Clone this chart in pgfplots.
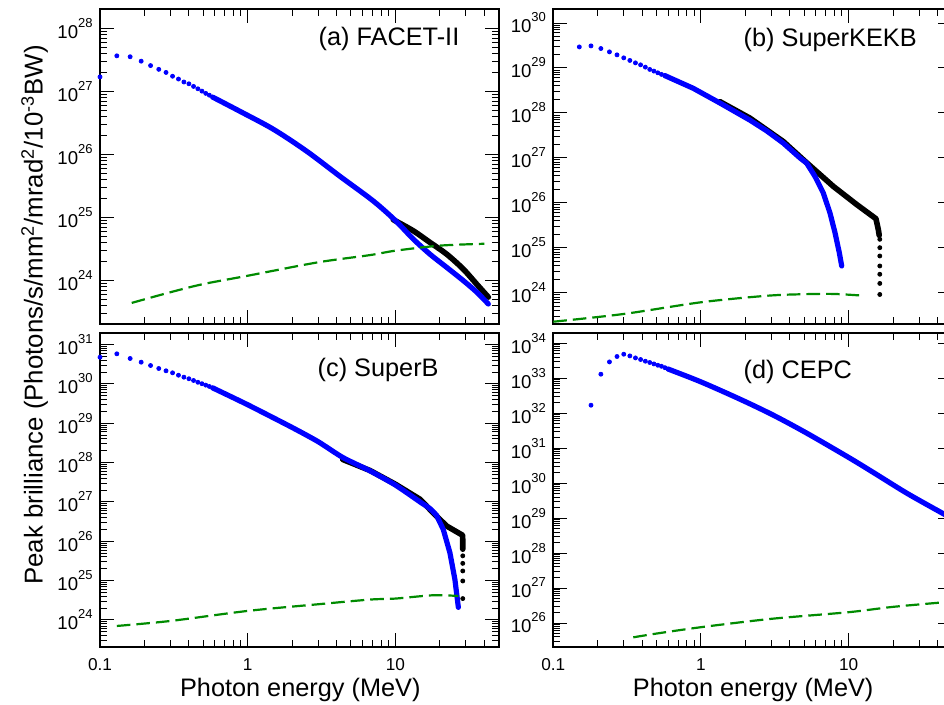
\documentclass[border=0pt]{standalone}
\usepackage{fontspec}
\setmainfont{Liberation Sans}
\usepackage{pgfplots}
\pgfplotsset{compat=1.18}
\definecolor{gr}{RGB}{0,139,0}

\pgfplotsset{
  panel/.style={
    scale only axis, width=199.3pt, height=157.4pt,
    log basis x=10, log basis y=10,
    xmin=0.1, xmax=50,
    axis line style={line width=1pt},
    tick style={line width=0.5pt, black},
    major tick length=7pt, minor tick length=3.5pt,
    tick align=inside,
    xtick={0.1,1,10},
    minor xtick={0.2,0.3,0.4,0.5,0.6,0.7,0.8,0.9,2,3,4,5,6,7,8,9,20,30,40,50},
    yticklabel={\pgfmathtruncatemacro\ex{round(\tick)}10\raisebox{5.5pt}{\fontsize{6.5pt}{7pt}\selectfont\ex}},
    yticklabel style={font=\fontsize{9.3pt}{10pt}\selectfont, inner sep=0pt, xshift=-3.5pt},
    xticklabel style={font=\fontsize{8.6pt}{10pt}\selectfont, inner sep=0pt, yshift=-5.3pt},
    clip=false,
  },
  bluedots/.style={only marks, mark=*, mark size=1pt, blue, mark options={draw=blue, fill=blue}},
  blackdots/.style={only marks, mark=*, mark size=1pt, black},
  blueline/.style={no marks, blue, line width=2.6pt, line cap=round, line join=round},
  blackline/.style={no marks, black, line width=2.8pt, line cap=round, line join=round},
  greenline/.style={no marks, gr, line width=1.1pt, dash pattern=on 6.8pt off 3pt, smooth, tension=0.5},
}

\begin{document}
\begin{tikzpicture}

% (a) FACET-II
\begin{loglogaxis}[panel, at={(50pt,-4.75pt)}, anchor=north west,
  ymin=2e23, ymax=2e28, ytick={1e24,1e25,1e26,1e27,1e28}, xticklabels={},
  minor ytick={3e23,4e23,5e23,6e23,7e23,8e23,9e23,
    2e24,3e24,4e24,5e24,6e24,7e24,8e24,9e24,
    2e25,3e25,4e25,5e25,6e25,7e25,8e25,9e25,
    2e26,3e26,4e26,5e26,6e26,7e26,8e26,9e26,
    2e27,3e27,4e27,5e27,6e27,7e27,8e27,9e27}]
\addplot[blackline, smooth, tension=0.5] coordinates {(9.68,9.16e24)(13.2,6.12e24)(17.1,4.01e24)(22.2,2.61e24)(28.8,1.51e24)(35.5,8.7e23)(42.6,5.4e23)};
\addplot[bluedots] coordinates {(0.10,1.70e27)(0.13,3.67e27)(0.16,3.55e27)(0.19,3.02e27)(0.22,2.57e27)(0.25,2.24e27)(0.28,2.00e27)(0.31,1.74e27)(0.34,1.57e27)(0.37,1.41e27)(0.40,1.32e27)(0.43,1.20e27)(0.46,1.10e27)(0.49,1.01e27)(0.52,9.3e26)(0.55,8.7e26)(0.58,8.1e26)};
\addplot[blueline, smooth, tension=0.5] coordinates {(0.58,8.1e26)(0.887,4.82e26)(1.49,2.51e26)(2.51,1.12e26)(4.22,4.47e25)(7.08,1.82e25)(10,8.9e24)(13.2,4.53e24)(17.1,2.61e24)(22.2,1.61e24)(28.8,9.9e23)(35.5,6.5e23)(42.6,4.2e23)};
\addplot[greenline] coordinates {(0.164,4.37e23)(0.3,6.46e23)(0.5,8.7e23)(1,1.18e24)(3,1.93e24)(6.73,2.51e24)(10,2.95e24)(20,3.55e24)(40,3.8e24)};
\end{loglogaxis}

% (b) SuperKEKB
\begin{loglogaxis}[panel, at={(276.65pt,-4.75pt)}, anchor=north west,
  ymin=2e23, ymax=2e30, ytick={1e24,1e25,1e26,1e27,1e28,1e29,1e30}, xticklabels={},
  minor ytick={3e23,4e23,5e23,6e23,7e23,8e23,9e23,
    2e24,3e24,4e24,5e24,6e24,7e24,8e24,9e24,
    2e25,3e25,4e25,5e25,6e25,7e25,8e25,9e25,
    2e26,3e26,4e26,5e26,6e26,7e26,8e26,9e26,
    2e27,3e27,4e27,5e27,6e27,7e27,8e27,9e27,
    2e28,3e28,4e28,5e28,6e28,7e28,8e28,9e28,
    2e29,3e29,4e29,5e29,6e29,7e29,8e29,9e29}]
\addplot[blackline] coordinates {(1.345,1.78e28)(2.147,7.66e27)(3.607,2.32e27)(4.93,9.12e26)(7.86,2.34e26)(11.33,9.2e25)(15.3,4.45e25)(15.9,2.5e25)(16.1,1.9e25)};
\addplot[blackdots] coordinates {(16.25,1.55e25)(16.25,1.01e25)(16.25,6.6e24)(16.25,3.96e24)(16.25,2.59e24)(16.25,1.62e24)(16.25,9.2e23)};
\addplot[bluedots] coordinates {(0.15,2.94e29)(0.18,3.10e29)(0.21,2.71e29)(0.24,2.28e29)(0.27,1.96e29)(0.30,1.68e29)(0.33,1.47e29)(0.36,1.30e29)(0.39,1.175e29)(0.42,1.045e29)(0.45,9.29e28)(0.48,8.53e28)(0.51,7.82e28)(0.54,7.21e28)(0.57,6.76e28)};
\addplot[blueline] coordinates {(0.57,6.76e28)(0.887,3.53e28)(1.345,1.66e28)(2.147,6.9e27)(2.785,4.0e27)(3.607,2.14e27)(4.68,1.0e27)(5.19,7.7e26)(5.91,3.9e26)(6.73,1.67e26)(7.47,6.0e25)(8.08,2.18e25)(8.64,7.85e24)(8.97,3.96e24)};
\addplot[greenline] coordinates {(0.1,2.28e23)(0.3,3.39e23)(1,6.17e23)(2.78,8.6e23)(5,9.33e23)(8,9.44e23)(12.9,8.6e23)};
\end{loglogaxis}

% (c) SuperB
\begin{loglogaxis}[panel, at={(50pt,-166.35pt)}, anchor=north west,
  ymin=2e23, ymax=2e31, ytick={1e24,1e25,1e26,1e27,1e28,1e29,1e30,1e31}, xticklabels={0.1,1,10},
  minor ytick={3e23,4e23,5e23,6e23,7e23,8e23,9e23,
    2e24,3e24,4e24,5e24,6e24,7e24,8e24,9e24,
    2e25,3e25,4e25,5e25,6e25,7e25,8e25,9e25,
    2e26,3e26,4e26,5e26,6e26,7e26,8e26,9e26,
    2e27,3e27,4e27,5e27,6e27,7e27,8e27,9e27,
    2e28,3e28,4e28,5e28,6e28,7e28,8e28,9e28,
    2e29,3e29,4e29,5e29,6e29,7e29,8e29,9e29,
    2e30,3e30,4e30,5e30,6e30,7e30,8e30,9e30}]
\addplot[blackline] coordinates {(4.4,1.2e28)(6.73,6.3e27)(10,2.82e27)(14.68,1.17e27)(18.06,5.25e26)(22.25,2.44e26)(28.56,1.42e26)(28.6,6.3e25)};
\addplot[blackdots] coordinates {(28.6,4.27e25)(28.6,2.75e25)(28.6,1.76e25)(28.6,9.8e24)(28.6,3.5e24)};
\addplot[bluedots] coordinates {(0.10,4.76e30)(0.13,5.81e30)(0.16,4.42e30)(0.19,3.56e30)(0.22,2.93e30)(0.25,2.46e30)(0.28,2.15e30)(0.31,1.91e30)(0.34,1.66e30)(0.37,1.48e30)(0.40,1.35e30)(0.43,1.22e30)(0.46,1.10e30)(0.49,1.01e30)(0.52,9.3e29)(0.55,8.6e29)(0.58,7.9e29)};
\addplot[blueline, smooth, tension=0.4] coordinates {(0.58,7.9e29)(1,2.95e29)(2,7.8e28)(3,3.4e28)(4.4,1.35e28)(6.73,6.17e27)(10,2.69e27)(14.7,1.0e27)(17.15,6.76e26)(19,4.57e26)};
\addplot[blueline] coordinates {(19,4.57e26)(21.1,2.0e26)(23.4,5.13e25)(25.3,1.07e25)(26.7,2.09e24)};
\addplot[greenline] coordinates {(0.13,7.05e23)(0.3,9.44e23)(1,1.7e24)(3,2.51e24)(6.73,3.3e24)(10,3.5e24)(18,4.25e24)(26.7,4.07e24)};
\end{loglogaxis}

% (d) CEPC
\begin{loglogaxis}[panel, at={(276.65pt,-166.35pt)}, anchor=north west,
  ymin=2e25, ymax=2e34, ytick={1e26,1e27,1e28,1e29,1e30,1e31,1e32,1e33,1e34}, xticklabels={0.1,1,10},
  minor ytick={3e25,4e25,5e25,6e25,7e25,8e25,9e25,
    2e26,3e26,4e26,5e26,6e26,7e26,8e26,9e26,
    2e27,3e27,4e27,5e27,6e27,7e27,8e27,9e27,
    2e28,3e28,4e28,5e28,6e28,7e28,8e28,9e28,
    2e29,3e29,4e29,5e29,6e29,7e29,8e29,9e29,
    2e30,3e30,4e30,5e30,6e30,7e30,8e30,9e30,
    2e31,3e31,4e31,5e31,6e31,7e31,8e31,9e31,
    2e32,3e32,4e32,5e32,6e32,7e32,8e32,9e32,
    2e33,3e33,4e33,5e33,6e33,7e33,8e33,9e33}]
\addplot[bluedots] coordinates {(0.18,1.69e32)(0.21,1.30e33)(0.24,2.92e33)(0.27,4.17e33)(0.30,4.85e33)(0.33,4.34e33)(0.36,3.80e33)(0.39,3.42e33)(0.42,3.06e33)(0.45,2.81e33)(0.48,2.56e33)(0.51,2.35e33)(0.54,2.19e33)(0.57,2.0e33)(0.60,1.82e33)};
\addplot[blueline, smooth, tension=0.5] coordinates {(0.60,1.82e33)(1,7.83e32)(1.837,2.51e32)(3.087,8.77e31)(5.195,2.69e31)(10,5.42e30)(14.68,2.02e30)(24.7,5.18e29)(41.5,1.51e29)(50,9.8e28)};
\addplot[greenline] coordinates {(0.348,3.9e25)(0.5,5.0e25)(1,7.6e25)(3,1.32e26)(10,2.04e26)(20,2.9e26)(50,4.1e26)};
\end{loglogaxis}

\begin{scope}[font=\fontsize{12.65pt}{14pt}\selectfont]
\node[anchor=base west, inner sep=0pt] at (159.15pt,-22.85pt) {(a) FACET-II};
\node[anchor=base west, inner sep=0pt] at (371.65pt,-23.35pt) {(b) SuperKEKB};
\node[anchor=base west, inner sep=0pt] at (158.65pt,-188.35pt) {(c) SuperB};
\node[anchor=base west, inner sep=0pt] at (371.65pt,-189.15pt) {(d) CEPC};
\node[anchor=base, inner sep=0pt] at (150.15pt,-348.25pt) {Photon energy (MeV)};
\node[anchor=base, inner sep=0pt] at (376.6pt,-348.25pt) {Photon energy (MeV)};
\end{scope}
\node[anchor=base, inner sep=0pt, rotate=90, font=\fontsize{12.9pt}{14pt}\selectfont] at (21.35pt,-157.5pt)
  {Peak brilliance (Photons/s/mm\textsuperscript{2}/mrad\textsuperscript{2}/10\textsuperscript{-3}BW)};

\pgfresetboundingbox
\useasboundingbox (0pt,0pt) rectangle (472pt,-352.5pt);
\end{tikzpicture}
\end{document}
